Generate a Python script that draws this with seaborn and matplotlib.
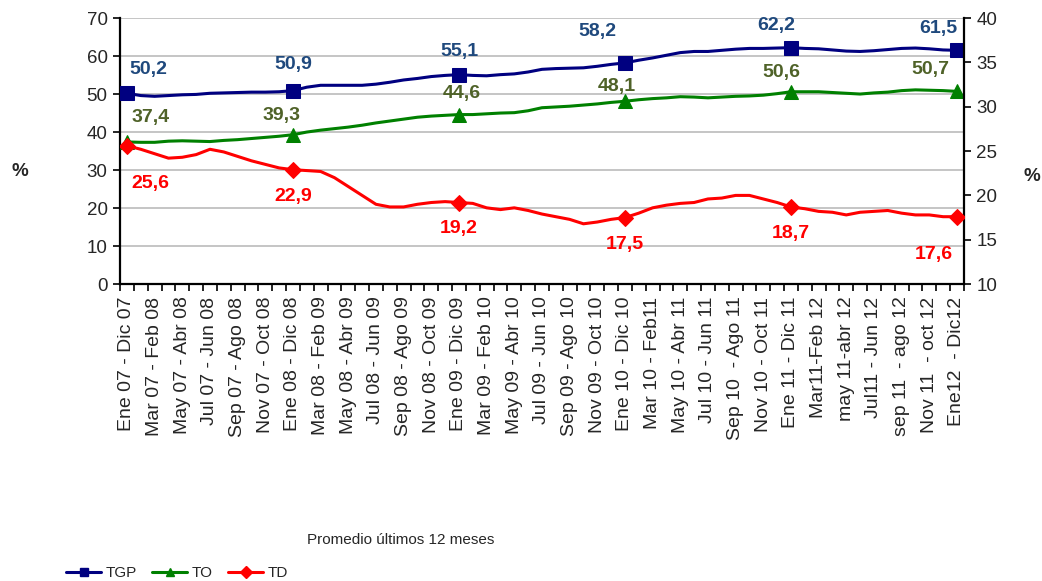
import numpy as np
import pandas as pd
import matplotlib
matplotlib.use("Agg")
import matplotlib.pyplot as plt
from matplotlib.lines import Line2D
import seaborn as sns

# ---------------- data ----------------
tick_labels = [
    "Ene 07 - Dic 07", "Mar 07 - Feb 08", "May 07 - Abr 08", "Jul 07 - Jun 08",
    "Sep 07 - Ago 08", "Nov 07 - Oct 08", "Ene 08 - Dic 08", "Mar 08 - Feb 09",
    "May 08 - Abr 09", "Jul 08 - Jun 09", "Sep 08 - Ago 09", "Nov 08 - Oct 09",
    "Ene 09 - Dic 09", "Mar 09 - Feb 10", "May 09 - Abr 10", "Jul 09 - Jun 10",
    "Sep 09 - Ago 10", "Nov 09 - Oct 10", "Ene 10 - Dic 10", "Mar 10 - Feb11",
    "May 10 - Abr 11", "Jul 10 - Jun 11", "Sep 10  - Ago 11", "Nov 10 - Oct 11",
    "Ene 11 - Dic 11", "Mar11-Feb 12", "may 11-abr 12", "Jul11 - Jun 12",
    "sep 11  - ago 12", "Nov 11  - oct 12", "Ene12  - Dic12",
]

tgp = [50.2, 49.6, 49.4, 49.6, 49.8, 49.9, 50.2, 50.3, 50.4, 50.5, 50.5, 50.6, 50.9,
       51.8, 52.3, 52.3, 52.3, 52.3, 52.6, 53.1, 53.7, 54.1, 54.6, 54.9, 55.1,
       54.9, 54.8, 55.1, 55.3, 55.8, 56.5, 56.7, 56.8, 56.9, 57.3, 57.8, 58.2,
       58.9, 59.5, 60.2, 60.9, 61.2, 61.2, 61.5, 61.8, 62.0, 62.0, 62.1, 62.2,
       62.0, 61.9, 61.6, 61.3, 61.2, 61.4, 61.7, 62.0, 62.1, 61.9, 61.6, 61.5]

to = [37.4, 37.3, 37.3, 37.6, 37.7, 37.6, 37.5, 37.8, 38.0, 38.3, 38.6, 38.9, 39.3,
      40.0, 40.5, 40.9, 41.3, 41.8, 42.4, 42.9, 43.4, 43.9, 44.2, 44.4, 44.6,
      44.6, 44.8, 45.0, 45.1, 45.6, 46.4, 46.6, 46.8, 47.1, 47.4, 47.8, 48.1,
      48.5, 48.8, 49.0, 49.3, 49.2, 49.0, 49.2, 49.4, 49.5, 49.7, 50.1, 50.6,
      50.6, 50.6, 50.4, 50.2, 50.0, 50.3, 50.5, 50.9, 51.1, 51.0, 50.9, 50.7]

td = [25.6, 25.2, 24.7, 24.2, 24.3, 24.6, 25.2, 24.9, 24.4, 23.9, 23.5, 23.1, 22.9,
      22.8, 22.7, 22.0, 21.0, 20.0, 19.0, 18.7, 18.7, 19.0, 19.2, 19.3, 19.2,
      19.1, 18.6, 18.4, 18.6, 18.3, 17.9, 17.6, 17.3, 16.8, 17.0, 17.3, 17.5,
      18.0, 18.6, 18.9, 19.1, 19.2, 19.6, 19.7, 20.0, 20.0, 19.6, 19.2, 18.7,
      18.5, 18.2, 18.1, 17.8, 18.1, 18.2, 18.3, 18.0, 17.8, 17.8, 17.6, 17.6]

series_names = ["TGP", "TO", "TD"]
x_title = "Promedio últimos 12 meses"

# ---------------- style ----------------
sns.set_theme(style="white")
plt.rcParams["font.family"] = ["Liberation Sans", "DejaVu Sans"]

line_colors = {"TGP": "#000080", "TO": "#008000", "TD": "#FF0000"}
label_colors = {"TGP": "#1F497D", "TO": "#4F6228", "TD": "#FF0000"}
markers = {"TGP": "s", "TO": "^", "TD": "D"}
msizes = {"TGP": 10, "TO": 10, "TD": 8}

n = len(tgp)
df = pd.DataFrame({"idx": np.arange(n), "TGP": tgp, "TO": to, "TD": td})
mark_idx = list(range(0, n, 12))

fig = plt.figure(figsize=(10.42, 5.81), dpi=100)
ax = fig.add_axes([0.1152, 0.511, 0.8098, 0.458])
ax2 = ax.twinx()

handles = []
for name, axis in (("TGP", ax), ("TO", ax), ("TD", ax2)):
    sns.lineplot(data=df, x="idx", y=name, ax=axis, color=line_colors[name],
                 linewidth=2.2, marker=markers[name], markevery=mark_idx,
                 markersize=msizes[name], markeredgecolor=line_colors[name],
                 legend=False, zorder=3)
    handles.append(Line2D([0], [0], color=line_colors[name], lw=2.2,
                          marker=markers[name], markersize=6,
                          markeredgecolor=line_colors[name]))

# data labels (offsets in pixels: dx, dy downward positive)
offsets = {
    "TGP": [(21, -24), (0, -26), (0, -23), (-28, -31), (-15, -22), (-19, -22)],
    "TO": [(24, -24), (-11, -19), (3, -21), (-8, -15), (-10, -19), (-27, -22)],
    "TD": [(23, 38), (0, 27), (0, 26), (0, 27), (0, 27), (-23, 38)],
}
for name, axis in (("TGP", ax), ("TO", ax), ("TD", ax2)):
    vals = df[name].values
    for k, i in enumerate(mark_idx):
        dx, dy = offsets[name][k]
        axis.annotate(f"{vals[i]:.1f}".replace(".", ","), xy=(i, vals[i]),
                      xytext=(dx, -dy), textcoords="offset pixels",
                      ha="center", va="center", fontsize=14, fontweight="bold",
                      color=label_colors[name], zorder=5)

# axes limits & ticks
ax.set_xlim(-0.5, n - 0.5)
ax.set_ylim(0, 70)
ax2.set_ylim(10, 40)
ax.set_yticks(np.arange(0, 71, 10))
ax2.set_yticks(np.arange(10, 41, 5))
ax.set_xticks(np.arange(0, n, 2))
ax.set_xticklabels(tick_labels, rotation=90, fontsize=14)
ax.set_xticks(np.arange(-0.5, n, 1), minor=True)
ax.tick_params(axis="x", which="major", length=0, pad=9)
ax.tick_params(axis="x", which="minor", bottom=True, length=5, width=1.2,
               color="black", direction="out")
ax.tick_params(axis="y", left=True, length=5, width=1.2, color="black",
               direction="out", labelsize=13.5, pad=4)
ax2.tick_params(axis="y", right=True, length=5, width=1.2, color="black",
                direction="out", labelsize=13.5, pad=4)

ax.grid(axis="y", color="#C0C0C0", linewidth=1.3)
ax.grid(axis="x", visible=False)
ax2.grid(False)
ax.set_axisbelow(True)

for s in ("top", "right"):
    ax.spines[s].set_visible(False)
for s in ("top", "left", "bottom"):
    ax2.spines[s].set_visible(False)
for sp in (ax.spines["left"], ax.spines["bottom"], ax2.spines["right"]):
    sp.set_color("black")
    sp.set_linewidth(1.6)

ax.set_xlabel("")
ax.set_ylabel("%", rotation=0, fontsize=13.5, fontweight="bold")
ax.yaxis.set_label_coords(-0.1185, 0.39)
ax2.set_ylabel("%", rotation=0, fontsize=13.5, fontweight="bold")
ax2.yaxis.set_label_coords(1.0806, 0.436)

fig.text(401 / 1042, 1 - 540 / 581, x_title, ha="center", va="center", fontsize=11)

fig.legend(handles, series_names, loc="center left",
           bbox_to_anchor=(66 / 1042, 1 - 573 / 581), ncol=3, frameon=False,
           fontsize=11, handlelength=2.3, columnspacing=1.0, handletextpad=0.3,
           borderpad=0, borderaxespad=0)

fig.savefig("out.png", dpi=100)
